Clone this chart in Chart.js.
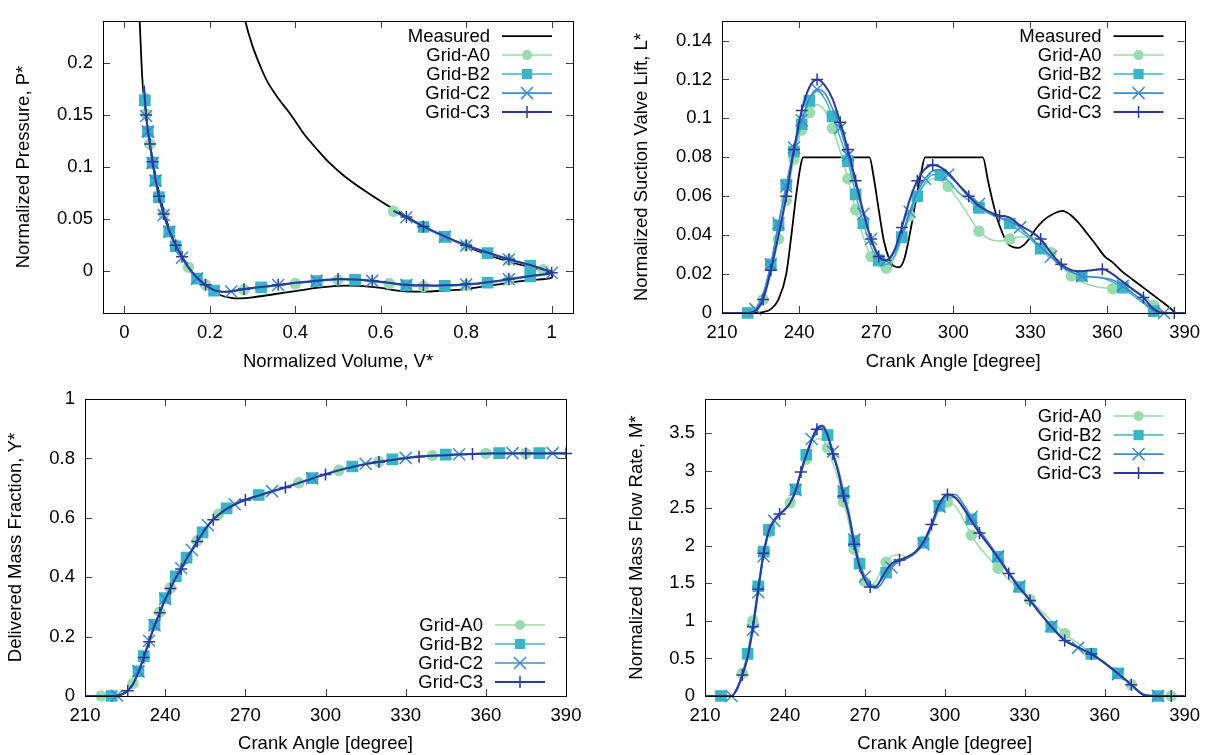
<!DOCTYPE html>
<html>
<head>
<meta charset="utf-8">
<title>Suction valve grid study</title>
<script src="https://cdn.jsdelivr.net/npm/chart.js@4.4.1/dist/chart.umd.min.js"></script>
<style>
  html, body { margin: 0; padding: 0; background: #fff; }
  #wrap { position: relative; width: 1209px; height: 755px; overflow: hidden; }
  canvas { position: absolute; }
</style>
</head>
<body>
<div id="wrap">
  <canvas id="pv"   width="604" height="378" style="left:0;top:0"></canvas>
  <canvas id="lift" width="605" height="378" style="left:604px;top:0"></canvas>
  <canvas id="frac" width="604" height="377" style="left:0;top:378px"></canvas>
  <canvas id="flow" width="605" height="377" style="left:604px;top:378px"></canvas>
</div>
<script>
// ---- data ----
const seriesNames = ['Measured', 'Grid-A0', 'Grid-B2', 'Grid-C2', 'Grid-C3'];

const volTicks = [0, 0.2, 0.4, 0.6, 0.8, 1];
const pressTicks = [0, 0.05, 0.1, 0.15, 0.2];
const angleTicks = [210, 240, 270, 300, 330, 360, 390];
const liftTicks = [0, 0.02, 0.04, 0.06, 0.08, 0.1, 0.12, 0.14];
const fracTicks = [0, 0.2, 0.4, 0.6, 0.8, 1];
const flowTicks = [0, 0.5, 1, 1.5, 2, 2.5, 3, 3.5];

// P-V diagram
const measVol = [0.034, 0.036, 0.039, 0.042, 0.046, 0.051, 0.056, 0.062, 0.069, 0.077,
  0.088, 0.100, 0.115, 0.130, 0.150, 0.175, 0.200, 0.225, 0.250, 0.270,
  0.300, 0.350, 0.400, 0.450, 0.500, 0.550, 0.600, 0.650, 0.700, 0.750,
  0.800, 0.850, 0.900, 0.950, 1.000, 1.000, 0.960, 0.920, 0.874, 0.830,
  0.785, 0.740, 0.695, 0.650, 0.605, 0.560, 0.516, 0.480, 0.453, 0.420,
  0.390, 0.360, 0.336, 0.320, 0.300, 0.283, 0.272];
const measPress = [0.270, 0.240, 0.210, 0.185, 0.165, 0.148, 0.133, 0.117, 0.100, 0.083,
  0.064, 0.047, 0.030, 0.018, 0.004, -0.009, -0.018, -0.023, -0.0255, -0.026,
  -0.025, -0.022, -0.019, -0.016, -0.014, -0.014, -0.016, -0.019, -0.0195, -0.0185,
  -0.017, -0.014, -0.011, -0.0085, -0.006, 0.000, 0.003, 0.007, 0.0125, 0.019,
  0.027, 0.035, 0.044, 0.055, 0.066, 0.078, 0.091, 0.104, 0.116, 0.132,
  0.150, 0.166, 0.181, 0.195, 0.216, 0.240, 0.265];
const simVol = [0.046, 0.048, 0.051, 0.055, 0.060, 0.066, 0.073, 0.081, 0.092, 0.105,
  0.120, 0.135, 0.150, 0.170, 0.190, 0.210, 0.230, 0.250, 0.280, 0.320,
  0.360, 0.400, 0.450, 0.500, 0.540, 0.580, 0.620, 0.660, 0.700, 0.750,
  0.800, 0.850, 0.900, 0.950, 1.000, 0.980, 0.950, 0.900, 0.850, 0.800,
  0.750, 0.700, 0.660, 0.630];
const pressA0 = [0.180, 0.166, 0.151, 0.136, 0.122, 0.105, 0.088, 0.072, 0.055, 0.039,
  0.025, 0.014, 0.004, -0.006, -0.013, -0.018, -0.0197, -0.0196, -0.0178, -0.0158,
  -0.0138, -0.0118, -0.0098, -0.0083, -0.0085, -0.0098, -0.0118, -0.0138, -0.0145, -0.0145,
  -0.0135, -0.0113, -0.0083, -0.0052, -0.002, 0.0015, 0.0055, 0.011, 0.0175, 0.0245,
  0.033, 0.0425, 0.0515, 0.0575];
const pressB2 = [0.177, 0.164, 0.149, 0.134, 0.121, 0.104, 0.087, 0.071, 0.054, 0.038,
  0.024, 0.013, 0.003, -0.007, -0.014, -0.0185, -0.0198, -0.0195, -0.0175, -0.0155,
  -0.0135, -0.0115, -0.0095, -0.008, -0.0082, -0.0095, -0.0115, -0.0135, -0.014, -0.014,
  -0.013, -0.011, -0.008, -0.005, -0.002, 0.0015, 0.0055, 0.011, 0.0175, 0.0245,
  0.033, 0.0425, 0.0515, 0.0575];
const pressC2 = [0.176, 0.164, 0.149, 0.134, 0.121, 0.104, 0.087, 0.071, 0.054, 0.038,
  0.024, 0.013, 0.003, -0.007, -0.014, -0.0185, -0.0198, -0.0193, -0.0172, -0.0152,
  -0.0132, -0.0112, -0.0092, -0.0078, -0.008, -0.0092, -0.0113, -0.0132, -0.0138, -0.0138,
  -0.0127, -0.0107, -0.0077, -0.0047, -0.0017, 0.0018, 0.0058, 0.0113, 0.0178, 0.0248,
  0.0332, 0.0428, 0.0518, 0.0578];
const pressC3 = [0.178, 0.165, 0.150, 0.135, 0.122, 0.105, 0.088, 0.072, 0.055, 0.039,
  0.025, 0.014, 0.004, -0.006, -0.013, -0.018, -0.0195, -0.0192, -0.017, -0.015,
  -0.013, -0.011, -0.009, -0.0075, -0.0078, -0.009, -0.011, -0.013, -0.0135, -0.0135,
  -0.0125, -0.0105, -0.0075, -0.0045, -0.0015, 0.002, 0.006, 0.0115, 0.018, 0.025,
  0.0335, 0.043, 0.052, 0.058];

// suction valve lift
const liftMeasAngle = [210, 222, 226, 229, 232, 235, 237, 239, 240.5, 241.5,
  267.4, 269, 271, 273, 275, 277, 279, 281, 283, 285.5,
  287.5, 289, 311.5, 313.5, 315.2, 317, 319, 321, 323, 325.5,
  327.5, 329.5, 332, 335, 339, 342.5, 346, 349, 352, 355,
  359, 362, 366, 370, 375, 380, 384, 387, 390];
const liftMeas = [0, 0, 0.0005, 0.002, 0.007, 0.02, 0.04, 0.062, 0.075, 0.08,
  0.08, 0.07, 0.053, 0.037, 0.028, 0.024, 0.0235, 0.028, 0.04, 0.058,
  0.072, 0.08, 0.08, 0.068, 0.058, 0.049, 0.0415, 0.036, 0.034, 0.0335,
  0.035, 0.038, 0.043, 0.0475, 0.051, 0.0525, 0.05, 0.046, 0.041, 0.036,
  0.029, 0.026, 0.021, 0.017, 0.012, 0.007, 0.003, 0, 0];
const liftAngle = [210, 220, 223, 226, 229, 232, 235, 238, 241, 244,
  247, 250, 253, 256, 259, 262, 265, 268, 271, 274,
  277, 280, 283, 286, 289, 292, 295, 298, 302, 306,
  310, 314, 318, 322, 326, 330, 334, 338, 342, 346,
  350, 354, 358, 362, 366, 370, 374, 378, 382, 386, 390];
const liftA0 = [0, 0, 0.001, 0.007, 0.020, 0.038, 0.058, 0.079, 0.094, 0.103,
  0.107, 0.104, 0.095, 0.083, 0.069, 0.053, 0.039, 0.029, 0.024, 0.023,
  0.028, 0.038, 0.050, 0.060, 0.066, 0.069, 0.068, 0.065, 0.058, 0.050,
  0.042, 0.038, 0.037, 0.038, 0.039, 0.039, 0.037, 0.031, 0.024, 0.019,
  0.016, 0.014, 0.013, 0.0125, 0.012, 0.0115, 0.009, 0.004, 0.0005, 0, 0];
const liftB2 = [0, 0, 0.002, 0.009, 0.025, 0.045, 0.066, 0.083, 0.097, 0.109,
  0.114, 0.110, 0.101, 0.090, 0.078, 0.061, 0.046, 0.034, 0.027, 0.025,
  0.029, 0.039, 0.050, 0.060, 0.067, 0.071, 0.071, 0.068, 0.062, 0.058,
  0.054, 0.051, 0.049, 0.046, 0.042, 0.038, 0.033, 0.029, 0.024, 0.021,
  0.019, 0.0185, 0.018, 0.016, 0.013, 0.009, 0.005, 0.001, 0, 0, 0];
const liftC2 = [0, 0, 0.002, 0.010, 0.025, 0.046, 0.065, 0.085, 0.099, 0.110,
  0.115, 0.113, 0.105, 0.095, 0.081, 0.066, 0.051, 0.038, 0.030, 0.027,
  0.031, 0.040, 0.052, 0.062, 0.069, 0.073, 0.0735, 0.071, 0.066, 0.061,
  0.056, 0.052, 0.049, 0.047, 0.044, 0.039, 0.034, 0.029, 0.024, 0.021,
  0.019, 0.0185, 0.018, 0.017, 0.014, 0.010, 0.006, 0.001, 0, 0, 0];
const liftC3 = [0, 0, 0.001, 0.007, 0.022, 0.040, 0.060, 0.084, 0.104, 0.116,
  0.120, 0.117, 0.110, 0.098, 0.084, 0.068, 0.052, 0.038, 0.029, 0.027,
  0.032, 0.044, 0.058, 0.068, 0.074, 0.076, 0.075, 0.072, 0.066, 0.060,
  0.055, 0.052, 0.050, 0.049, 0.045, 0.042, 0.038, 0.031, 0.025, 0.022,
  0.0215, 0.022, 0.0225, 0.020, 0.016, 0.012, 0.008, 0.002, 0, 0, 0];

// delivered mass fraction
const fracAngle = [210, 216, 220, 222, 224, 226, 228, 230, 232, 234,
  236, 238, 240, 242, 244, 246, 248, 250, 252, 254,
  256, 258, 260, 263, 266, 270, 275, 280, 285, 290,
  295, 300, 305, 310, 315, 320, 325, 330, 335, 340,
  345, 350, 355, 360, 365, 370, 375, 380, 385, 390];
const fracA0 = [0, 0, 0, 0.001, 0.006, 0.019, 0.042, 0.082, 0.133, 0.186,
  0.238, 0.283, 0.328, 0.365, 0.401, 0.431, 0.465, 0.493, 0.523, 0.550,
  0.576, 0.596, 0.612, 0.632, 0.647, 0.662, 0.677, 0.690, 0.703, 0.718,
  0.733, 0.747, 0.760, 0.771, 0.781, 0.789, 0.796, 0.802, 0.807, 0.810,
  0.812, 0.814, 0.816, 0.817, 0.817, 0.817, 0.817, 0.817, 0.817, 0.817];
const fracB2 = [0, 0, 0, 0.001, 0.006, 0.019, 0.042, 0.083, 0.134, 0.188,
  0.240, 0.285, 0.330, 0.367, 0.403, 0.432, 0.466, 0.494, 0.524, 0.551,
  0.576, 0.596, 0.612, 0.632, 0.647, 0.662, 0.677, 0.691, 0.704, 0.719,
  0.734, 0.748, 0.762, 0.773, 0.783, 0.790, 0.797, 0.803, 0.808, 0.811,
  0.813, 0.815, 0.816, 0.817, 0.818, 0.818, 0.818, 0.818, 0.818, 0.818];
const fracC2 = [0, 0, 0, 0.001, 0.007, 0.020, 0.043, 0.083, 0.133, 0.186,
  0.238, 0.282, 0.327, 0.364, 0.400, 0.430, 0.464, 0.492, 0.522, 0.550,
  0.575, 0.595, 0.611, 0.631, 0.646, 0.661, 0.676, 0.690, 0.703, 0.718,
  0.733, 0.747, 0.761, 0.772, 0.782, 0.789, 0.796, 0.802, 0.807, 0.810,
  0.812, 0.814, 0.816, 0.817, 0.818, 0.818, 0.818, 0.818, 0.818, 0.818];
const fracC3 = [0, 0, 0, 0.001, 0.006, 0.018, 0.040, 0.080, 0.130, 0.183,
  0.236, 0.280, 0.325, 0.362, 0.398, 0.428, 0.462, 0.490, 0.520, 0.548,
  0.574, 0.594, 0.610, 0.630, 0.645, 0.660, 0.675, 0.689, 0.702, 0.717,
  0.732, 0.746, 0.760, 0.771, 0.781, 0.788, 0.795, 0.801, 0.806, 0.809,
  0.811, 0.813, 0.815, 0.816, 0.817, 0.817, 0.817, 0.817, 0.817, 0.817];

// mass flow rate
const flowAngle = [210, 216, 220, 222, 224, 226, 228, 230, 232, 234,
  236, 238, 240, 242, 244, 246, 248, 250, 252, 254,
  256, 258, 260, 262, 264, 266, 268, 270, 272, 274,
  276, 278, 280, 283, 286, 289, 292, 295, 298, 301,
  304, 307, 310, 313, 316, 320, 324, 328, 332, 336,
  340, 345, 350, 355, 360, 365, 370, 375, 380, 385, 390];
const flowA0 = [0, 0, 0, 0.1, 0.3, 0.6, 1.0, 1.45, 1.88, 2.18,
  2.33, 2.42, 2.48, 2.57, 2.74, 2.95, 3.15, 3.33, 3.42, 3.42,
  3.30, 3.10, 2.88, 2.58, 2.30, 1.95, 1.70, 1.52, 1.46, 1.52,
  1.66, 1.78, 1.86, 1.88, 1.85, 1.92, 2.06, 2.27, 2.48, 2.58,
  2.52, 2.35, 2.14, 1.98, 1.86, 1.70, 1.55, 1.42, 1.28, 1.14,
  1.00, 0.83, 0.70, 0.57, 0.44, 0.30, 0.15, 0.01, 0, 0, 0];
const flowB2 = [0, 0, 0, 0.1, 0.3, 0.56, 0.96, 1.46, 1.92, 2.21,
  2.35, 2.43, 2.49, 2.58, 2.75, 2.99, 3.21, 3.40, 3.53, 3.56,
  3.47, 3.24, 3.00, 2.70, 2.43, 2.06, 1.76, 1.58, 1.49, 1.47,
  1.53, 1.64, 1.74, 1.79, 1.83, 1.91, 2.04, 2.26, 2.53, 2.65,
  2.63, 2.51, 2.35, 2.19, 2.04, 1.85, 1.64, 1.45, 1.27, 1.09,
  0.92, 0.75, 0.65, 0.56, 0.44, 0.30, 0.15, 0.01, 0, 0, 0];
const flowC2 = [0, 0, 0, 0.08, 0.26, 0.50, 0.88, 1.38, 1.86, 2.18,
  2.33, 2.42, 2.48, 2.57, 2.74, 2.99, 3.22, 3.42, 3.57, 3.60,
  3.49, 3.25, 3.02, 2.72, 2.45, 2.08, 1.78, 1.59, 1.48, 1.43,
  1.48, 1.60, 1.71, 1.79, 1.84, 1.90, 2.02, 2.24, 2.52, 2.68,
  2.68, 2.55, 2.38, 2.21, 2.06, 1.86, 1.65, 1.46, 1.28, 1.10,
  0.93, 0.74, 0.64, 0.55, 0.43, 0.29, 0.15, 0.02, 0, 0, 0];
const flowC3 = [0, 0, 0, 0.1, 0.28, 0.52, 0.92, 1.42, 1.90, 2.20,
  2.34, 2.42, 2.48, 2.57, 2.73, 2.98, 3.20, 3.40, 3.55, 3.59,
  3.47, 3.22, 2.98, 2.66, 2.40, 2.02, 1.72, 1.55, 1.45, 1.45,
  1.55, 1.67, 1.76, 1.81, 1.85, 1.92, 2.05, 2.28, 2.56, 2.68,
  2.64, 2.50, 2.33, 2.17, 2.03, 1.84, 1.63, 1.44, 1.27, 1.09,
  0.92, 0.74, 0.65, 0.56, 0.44, 0.30, 0.15, 0.01, 0, 0, 0];

// ---- styling ----
const FONT = "'Liberation Sans', Arial, Helvetica, sans-serif";
const FS = 18.5;
const colors = {
  'Measured': '#000000',
  'Grid-A0': '#98dbae',
  'Grid-B2': '#39b5c5',
  'Grid-C2': '#3c8bcf',
  'Grid-C3': '#2a3a9c'
};
const looks = {
  'Measured': { mark: null, r: 0, width: 1.8, order: 4, phase: 0 },
  'Grid-A0': { mark: 'circle', r: 5, width: 1.5, order: 3, phase: 0.1 },
  'Grid-B2': { mark: 'rect', r: 7.2, width: 1.5, order: 2, phase: 0.35 },
  'Grid-C2': { mark: 'crossRot', r: 8.5, width: 1.6, order: 1, phase: 0.6 },
  'Grid-C3': { mark: 'cross', r: 6, width: 2, order: 0, phase: 0.85 }
};

// marker wherever the (x-weighted) pixel length along the curve passes a multiple of gap
function markEvery(gap, phase, r, wx) {
  return ctx => {
    if (ctx.type !== 'data') return r;
    const chart = ctx.chart;
    const pts = chart.data.datasets[ctx.datasetIndex].data;
    const sx = chart.scales.x, sy = chart.scales.y;
    const i = ctx.dataIndex;
    let s0 = 0, s1 = 0;
    for (let k = 1; k <= i; k++) {
      const dx = (sx.getPixelForValue(pts[k].x) - sx.getPixelForValue(pts[k - 1].x)) * wx;
      const dy = sy.getPixelForValue(pts[k].y) - sy.getPixelForValue(pts[k - 1].y);
      s0 = s1; s1 += Math.hypot(dx, dy);
    }
    if (!isFinite(s1)) return 0;
    const off = phase * gap;
    if (i === 0) return off === 0 ? r : 0;
    return Math.floor((s1 - off) / gap) > Math.floor((s0 - off) / gap) ? r : 0;
  };
}

function series(name, xs, ys, spacing, smooth) {
  const lk = looks[name];
  const ds = {
    label: name,
    data: xs.map((x, i) => ({ x: x, y: ys[i] })),
    showLine: true,
    fill: false,
    borderColor: colors[name],
    backgroundColor: colors[name],
    borderWidth: lk.width,
    pointStyle: lk.mark || 'circle',
    pointRadius: lk.mark ? markEvery(spacing.gap, lk.phase, lk.r, spacing.wx) : 0,
    pointBorderWidth: 1.5,
    pointBackgroundColor: colors[name],
    pointBorderColor: colors[name],
    order: lk.order,
    clip: name === 'Measured' ? 0 : { left: 10, top: 0, right: 10, bottom: 10 }
  };
  if (smooth === 'monotone') ds.cubicInterpolationMode = 'monotone';
  else ds.tension = 0.3;
  return ds;
}

function axis(pos, min, max, ticks, title, size, titlePad) {
  const left = pos === 'left';
  return {
    type: 'linear', position: pos, min: min, max: max,
    afterBuildTicks: s => { s.ticks = ticks.map(v => ({ value: v })); },
    afterFit: s => { if (left) s.width = size; else s.height = size; },
    grid: { display: false, drawTicks: false },
    border: { display: false },
    ticks: {
      color: '#000', font: { family: FONT, size: FS }, padding: left ? 10 : 9,
      autoSkip: false, maxRotation: 0, callback: v => String(v)
    },
    title: {
      display: true, text: title, color: '#000', font: { family: FONT, size: FS },
      padding: left ? { top: titlePad, bottom: 0 } : { top: 0, bottom: titlePad }
    }
  };
}

// gnuplot-like border with inward ticks on all four sides
const gnuFrame = {
  id: 'gnuFrame',
  afterDatasetsDraw(chart) {
    const { ctx, chartArea: a, scales } = chart;
    const x = scales.x, y = scales.y, len = 7;
    ctx.save();
    ctx.lineWidth = 1;
    ctx.strokeStyle = '#444';
    ctx.beginPath();
    x.ticks.forEach(t => {
      const px = Math.round(x.getPixelForValue(t.value)) + 0.5;
      ctx.moveTo(px, a.bottom); ctx.lineTo(px, a.bottom - len);
      ctx.moveTo(px, a.top); ctx.lineTo(px, a.top + len);
    });
    y.ticks.forEach(t => {
      const py = Math.round(y.getPixelForValue(t.value)) + 0.5;
      ctx.moveTo(a.left, py); ctx.lineTo(a.left + len, py);
      ctx.moveTo(a.right, py); ctx.lineTo(a.right - len, py);
    });
    ctx.stroke();
    ctx.strokeStyle = '#000';
    ctx.strokeRect(Math.round(a.left) + 0.5, Math.round(a.top) + 0.5,
                   Math.round(a.right - a.left), Math.round(a.bottom - a.top));
    ctx.restore();
  }
};

function drawMark(ctx, mark, x, y, r) {
  ctx.beginPath();
  if (mark === 'circle') { ctx.arc(x, y, r, 0, Math.PI * 2); ctx.fill(); }
  else if (mark === 'rect') { const s = r * Math.SQRT1_2; ctx.fillRect(x - s, y - s, 2 * s, 2 * s); }
  else if (mark === 'crossRot') {
    const s = r * Math.SQRT1_2;
    ctx.moveTo(x - s, y - s); ctx.lineTo(x + s, y + s);
    ctx.moveTo(x - s, y + s); ctx.lineTo(x + s, y - s); ctx.stroke();
  } else if (mark === 'cross') {
    ctx.moveTo(x - r, y); ctx.lineTo(x + r, y);
    ctx.moveTo(x, y - r); ctx.lineTo(x, y + r); ctx.stroke();
  }
}

// key: text right-aligned, then a line sample with the marker on it
const gnuKey = {
  id: 'gnuKey',
  afterDraw(chart, args, opts) {
    const { ctx, chartArea: a } = chart;
    const sets = chart.data.datasets;
    const n = sets.length, step = 19;
    ctx.save();
    ctx.font = FS + 'px ' + FONT;
    ctx.textAlign = 'right';
    ctx.textBaseline = 'middle';
    sets.forEach((ds, k) => {
      const y = opts.bottom ? a.bottom - opts.offset - (n - 1 - k) * step : a.top + opts.offset + k * step;
      const lk = looks[ds.label];
      ctx.fillStyle = '#000';
      ctx.fillText(ds.label, a.right - 83, y + 1);
      ctx.strokeStyle = ds.borderColor;
      ctx.fillStyle = ds.borderColor;
      ctx.lineWidth = lk.width;
      ctx.beginPath();
      ctx.moveTo(a.right - 71, y); ctx.lineTo(a.right - 21, y);
      ctx.stroke();
      if (lk.mark) { ctx.lineWidth = 1.5; drawMark(ctx, lk.mark, a.right - 46, y, lk.r); }
    });
    ctx.restore();
  }
};

function panel(id, datasets, xAxis, yAxis, pad, key) {
  return new Chart(document.getElementById(id), {
    type: 'scatter',
    data: { datasets: datasets },
    options: {
      responsive: false,
      devicePixelRatio: 1,
      animation: false,
      events: [],
      layout: { padding: pad },
      scales: { x: xAxis, y: yAxis },
      plugins: { legend: { display: false }, tooltip: { enabled: false }, gnuKey: key }
    },
    plugins: [gnuFrame, gnuKey]
  });
}

const pvMarks = { gap: 25, wx: 0.55 };
const liftMarks = { gap: 38, wx: 0.85 };
const fracMarks = { gap: 25, wx: 0.5 };
const flowMarks = { gap: 44, wx: 1 };

// top left: P-V diagram
panel('pv', [
  series('Measured', measVol, measPress, pvMarks, 'tension'),
  series('Grid-A0', simVol, pressA0, pvMarks, 'tension'),
  series('Grid-B2', simVol, pressB2, pvMarks, 'tension'),
  series('Grid-C2', simVol, pressC2, pvMarks, 'tension'),
  series('Grid-C3', simVol, pressC3, pvMarks, 'tension')
],
  axis('bottom', -0.05, 1.05, volTicks, 'Normalized Volume, V*', 65, 5),
  axis('left', -0.04, 0.24, pressTicks, 'Normalized Pressure, P*', 103, 13),
  { left: 0, top: 13, right: 31, bottom: 0 },
  { offset: 15, bottom: false });

// top right: suction valve lift
panel('lift', [
  series('Measured', liftMeasAngle, liftMeas, liftMarks, 'monotone'),
  series('Grid-A0', liftAngle, liftA0, liftMarks, 'monotone'),
  series('Grid-B2', liftAngle, liftB2, liftMarks, 'monotone'),
  series('Grid-C2', liftAngle, liftC2, liftMarks, 'monotone'),
  series('Grid-C3', liftAngle, liftC3, liftMarks, 'monotone')
],
  axis('bottom', 210, 390, angleTicks, 'Crank Angle [degree]', 65, 5),
  axis('left', 0, 0.15, liftTicks, 'Normalized Suction Valve Lift, L*', 118, 27),
  { left: 0, top: 13, right: 21, bottom: 0 },
  { offset: 15, bottom: false });

// bottom left: delivered mass fraction
panel('frac', [
  series('Grid-A0', fracAngle, fracA0, fracMarks, 'monotone'),
  series('Grid-B2', fracAngle, fracB2, fracMarks, 'monotone'),
  series('Grid-C2', fracAngle, fracC2, fracMarks, 'monotone'),
  series('Grid-C3', fracAngle, fracC3, fracMarks, 'monotone')
],
  axis('bottom', 210, 390, angleTicks, 'Crank Angle [degree]', 59, 0),
  axis('left', 0, 1, fracTicks, 'Delivered Mass Fraction, Y*', 85, 5),
  { left: 0, top: 17, right: 38, bottom: 0 },
  { offset: 14, bottom: true });

// bottom right: mass flow rate
panel('flow', [
  series('Grid-A0', flowAngle, flowA0, flowMarks, 'monotone'),
  series('Grid-B2', flowAngle, flowB2, flowMarks, 'monotone'),
  series('Grid-C2', flowAngle, flowC2, flowMarks, 'monotone'),
  series('Grid-C3', flowAngle, flowC3, flowMarks, 'monotone')
],
  axis('bottom', 210, 390, angleTicks, 'Crank Angle [degree]', 59, 0),
  axis('left', 0, 3.95, flowTicks, 'Normalized Mass Flow Rate, M*', 101, 22),
  { left: 0, top: 17, right: 24, bottom: 0 },
  { offset: 17, bottom: false });
</script>
</body>
</html>
